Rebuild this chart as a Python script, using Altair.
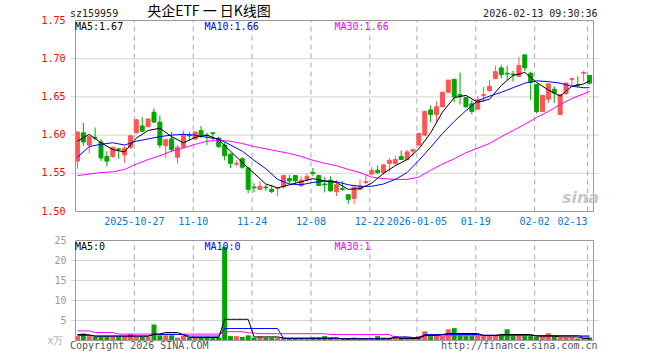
import altair as alt
import numpy as np
import pandas as pd

# ---------------- data ----------------
symbol = "sz159959"
title_text = "央企ETF 一 日K线图"
timestamp = "2026-02-13 09:30:36"
copyright_text = "Copyright 2026 SINA.COM"
site_text = "http://finance.sina.com.cn"
unit_text = "x万"

date_tick_index = [10, 20, 30, 40, 50, 58, 68, 78, 87]
date_tick_label = ["2025-10-27", "11-10", "11-24", "12-08", "12-22",
                   "2026-01-05", "01-19", "02-02", "02-13"]
price_ticks = [1.50, 1.55, 1.60, 1.65, 1.70, 1.75]
volume_ticks = [5, 10, 15, 20, 25]

opens = [1.566, 1.603, 1.587, 1.597, 1.591, 1.572, 1.572, 1.582, 1.574, 1.584,
         1.603, 1.612, 1.611, 1.630, 1.617, 1.586, 1.595, 1.571, 1.584, 1.600,
         1.595, 1.606, 1.600, 1.603, 1.596, 1.587, 1.575, 1.562, 1.569, 1.557,
         1.532, 1.529, 1.532, 1.529, 1.530, 1.532, 1.543, 1.547, 1.534, 1.542,
         1.551, 1.547, 1.536, 1.541, 1.526, 1.530, 1.522, 1.517, 1.529, 1.538,
         1.549, 1.554, 1.551, 1.563, 1.563, 1.572, 1.568, 1.579, 1.587, 1.600,
         1.633, 1.627, 1.637, 1.656, 1.673, 1.653, 1.649, 1.641, 1.634, 1.652,
         1.658, 1.674, 1.688, 1.681, 1.680, 1.677, 1.705, 1.681, 1.666, 1.631,
         1.647, 1.660, 1.627, 1.654, 1.673, 1.666, 1.681, 1.678]
highs = [1.605, 1.616, 1.599, 1.610, 1.595, 1.579, 1.585, 1.583, 1.585, 1.600,
         1.621, 1.624, 1.622, 1.635, 1.626, 1.595, 1.604, 1.587, 1.606, 1.604,
         1.605, 1.612, 1.603, 1.603, 1.598, 1.590, 1.577, 1.567, 1.571, 1.557,
         1.537, 1.540, 1.535, 1.535, 1.531, 1.548, 1.548, 1.547, 1.546, 1.550,
         1.557, 1.548, 1.545, 1.546, 1.541, 1.540, 1.522, 1.533, 1.542, 1.548,
         1.558, 1.560, 1.561, 1.570, 1.573, 1.580, 1.581, 1.581, 1.603, 1.632,
         1.639, 1.644, 1.657, 1.672, 1.673, 1.682, 1.650, 1.646, 1.651, 1.663,
         1.672, 1.691, 1.692, 1.691, 1.684, 1.702, 1.705, 1.683, 1.666, 1.652,
         1.668, 1.664, 1.653, 1.669, 1.674, 1.677, 1.684, 1.679]
lows = [1.556, 1.586, 1.576, 1.594, 1.566, 1.559, 1.570, 1.569, 1.564, 1.582,
        1.602, 1.604, 1.610, 1.616, 1.583, 1.570, 1.578, 1.563, 1.583, 1.592,
        1.593, 1.596, 1.587, 1.592, 1.583, 1.567, 1.557, 1.559, 1.556, 1.524,
        1.525, 1.528, 1.527, 1.524, 1.520, 1.530, 1.537, 1.536, 1.532, 1.539,
        1.546, 1.534, 1.525, 1.526, 1.520, 1.527, 1.510, 1.510, 1.528, 1.536,
        1.548, 1.549, 1.548, 1.552, 1.561, 1.568, 1.567, 1.572, 1.586, 1.599,
        1.617, 1.616, 1.637, 1.655, 1.643, 1.640, 1.636, 1.627, 1.633, 1.643,
        1.657, 1.674, 1.674, 1.672, 1.670, 1.676, 1.684, 1.646, 1.628, 1.630,
        1.642, 1.642, 1.626, 1.653, 1.664, 1.663, 1.670, 1.666]
closes = [1.604, 1.591, 1.598, 1.596, 1.570, 1.566, 1.584, 1.581, 1.583, 1.599,
          1.620, 1.605, 1.621, 1.617, 1.587, 1.594, 1.581, 1.584, 1.601, 1.599,
          1.604, 1.600, 1.599, 1.602, 1.585, 1.573, 1.563, 1.563, 1.558, 1.529,
          1.531, 1.533, 1.531, 1.526, 1.531, 1.547, 1.540, 1.540, 1.541, 1.546,
          1.550, 1.534, 1.535, 1.527, 1.535, 1.529, 1.516, 1.532, 1.533, 1.539,
          1.554, 1.551, 1.561, 1.567, 1.568, 1.568, 1.578, 1.581, 1.602, 1.631,
          1.627, 1.637, 1.656, 1.672, 1.650, 1.651, 1.637, 1.631, 1.646, 1.653,
          1.664, 1.683, 1.679, 1.680, 1.679, 1.691, 1.688, 1.669, 1.631, 1.652,
          1.667, 1.655, 1.653, 1.668, 1.674, 1.665, 1.682, 1.668]
volumes = [1.1, 1.75, 1.1, 0.9, 0.9, 0.9, 0.9, 0.9, 1.1, 1.6,
           0.9, 0.9, 0.9, 4.0, 1.3, 1.3, 1.3, 0.7, 1.25, 0.7,
           0.9, 0.75, 0.9, 0.75, 0.75, 23.4, 1.1, 1.1, 0.9, 1.3,
           0.7, 0.9, 0.75, 0.75, 0.75, 0.75, 0.5, 0.5, 0.5, 0.5,
           0.75, 0.75, 1.1, 0.75, 0.5, 0.5, 0.5, 0.75, 0.5, 0.5,
           0.5, 1.1, 0.75, 0.75, 1.1, 0.7, 0.7, 0.7, 1.1, 2.3,
           1.1, 1.1, 1.1, 2.8, 3.1, 1.3, 1.1, 1.1, 1.1, 1.1,
           1.1, 1.1, 1.3, 2.8, 1.1, 1.1, 1.1, 1.1, 0.9, 1.1,
           1.8, 1.1, 0.75, 0.75, 0.75, 0.5, 0.75, 0.75]

# price moving averages, read every second session
ma_index = [0, 2, 4, 6, 8, 10, 12, 14, 16, 18, 20, 22, 24, 26, 28, 30, 32, 34,
            36, 38, 40, 42, 44, 46, 48, 50, 52, 54, 56, 58, 60, 62, 64, 66, 68,
            70, 72, 74, 76, 78, 80, 82, 84, 86, 87]
ma5 = [1.592, 1.601, 1.590, 1.581, 1.578, 1.596, 1.606, 1.609, 1.598, 1.590,
       1.597, 1.600, 1.594, 1.579, 1.564, 1.550, 1.536, 1.531, 1.535, 1.539,
       1.543, 1.540, 1.538, 1.529, 1.530, 1.537, 1.550, 1.560, 1.568, 1.582,
       1.603, 1.630, 1.649, 1.652, 1.643, 1.647, 1.665, 1.678, 1.682, 1.669,
       1.659, 1.651, 1.664, 1.667, 1.671]
ma10 = [1.571, 1.585, 1.588, 1.590, 1.587, 1.592, 1.595, 1.598, 1.600, 1.601,
        1.600, 1.597, 1.595, 1.587, 1.579, 1.567, 1.556, 1.542, 1.536, 1.535,
        1.538, 1.540, 1.539, 1.535, 1.533, 1.533, 1.536, 1.542, 1.551, 1.567,
        1.584, 1.602, 1.618, 1.632, 1.645, 1.651, 1.656, 1.662, 1.668, 1.671,
        1.670, 1.668, 1.664, 1.662, 1.662]
ma30 = [1.547, 1.549, 1.551, 1.552, 1.555, 1.562, 1.568, 1.573, 1.579, 1.583,
        1.588, 1.592, 1.593, 1.592, 1.589, 1.585, 1.582, 1.579, 1.576, 1.572,
        1.567, 1.563, 1.560, 1.555, 1.551, 1.545, 1.543, 1.542, 1.542, 1.545,
        1.554, 1.562, 1.569, 1.577, 1.583, 1.589, 1.598, 1.606, 1.614, 1.623,
        1.631, 1.640, 1.648, 1.654, 1.657]

# volume moving averages, one value per session
vol_ma5 = [1.5, 1.5, 1.4, 1.1, 1.1, 1.1, 1.1, 1.1, 1.1, 1.1,
           1.1, 1.1, 1.1, 1.6, 1.6, 2.0, 2.0, 2.0, 1.4, 0.75,
           0.75, 0.75, 0.75, 0.75, 0.75, 5.3, 5.3, 5.3, 5.3, 5.3,
           0.9, 0.9, 0.9, 0.9, 0.9, 0.6, 0.6, 0.6, 0.6, 0.6,
           0.6, 0.6, 0.6, 0.6, 0.7, 0.4, 0.4, 0.4, 0.4, 0.4,
           0.4, 0.4, 0.4, 0.4, 0.75, 0.5, 0.5, 0.5, 0.5, 1.25,
           1.25, 1.25, 1.5, 1.75, 1.75, 1.75, 1.75, 1.75, 1.75, 1.25,
           1.25, 1.25, 1.5, 1.5, 1.5, 1.5, 1.5, 1.5, 1.1, 1.1,
           1.1, 1.1, 0.9, 0.9, 0.9, 0.9, 0.5, 0.5]
vol_ma10 = [1.3, 1.3, 1.3, 1.1, 1.1, 1.1, 1.1, 1.1, 1.1, 1.1,
            1.1, 1.1, 1.1, 1.5, 1.5, 1.5, 1.5, 1.5, 1.5, 1.1,
            1.1, 1.1, 1.1, 1.1, 1.1, 3.0, 3.0, 3.0, 3.0, 3.0,
            3.0, 3.0, 3.0, 3.0, 3.0, 0.5, 0.5, 0.5, 0.5, 0.5,
            0.5, 0.5, 0.5, 0.5, 0.5, 0.5, 0.5, 0.5, 0.5, 0.5,
            0.5, 0.5, 0.5, 0.5, 0.9, 0.9, 0.9, 0.75, 0.75, 1.5,
            1.5, 1.5, 1.5, 1.5, 1.5, 1.5, 1.5, 1.5, 1.5, 1.33,
            1.33, 1.33, 1.33, 1.33, 1.33, 1.33, 1.33, 1.33, 1.2, 1.2,
            1.2, 1.2, 1.2, 1.2, 1.2, 1.2, 0.9, 0.9]
vol_ma30 = [2.4, 2.4, 2.4, 2.0, 2.0, 2.0, 2.0, 1.6, 1.6, 1.6,
            1.6, 1.6, 1.6, 1.6, 1.6, 1.6, 1.6, 1.6, 1.6, 1.6,
            1.6, 1.6, 1.6, 1.6, 1.6, 2.2, 2.2, 2.2, 2.2, 1.9,
            1.9, 1.7, 1.7, 1.7, 1.7, 1.7, 1.7, 1.7, 1.7, 1.7,
            1.7, 1.7, 1.7, 1.5, 1.5, 1.5, 1.5, 1.5, 1.5, 1.5,
            1.5, 1.5, 1.5, 1.5, 0.75, 0.75, 0.75, 0.75, 0.75, 1.2,
            1.2, 1.2, 1.2, 1.2, 1.2, 1.2, 1.2, 1.2, 1.2, 1.2,
            1.2, 1.2, 1.2, 1.2, 1.2, 1.2, 1.2, 1.2, 1.2, 1.2,
            1.2, 1.2, 1.2, 1.2, 1.2, 1.2, 1.2, 1.2]

# ---------------- layout / style ----------------
N = len(closes)
STEP = 6
W = STEP * N
PRICE_H = 191
GAP = 29
VOL_H = 100
TOTAL_H = PRICE_H + GAP + VOL_H
CENTER = 1 / 3          # candle centre inside its slot
RED = "#ff5555"
GREEN = "#00a600"
MONO = "DejaVu Sans Mono"
CJK = "Noto Sans CJK SC"
GRID = "#a8a8a8"
BORDER = "#999999"

p_lo, p_hi = price_ticks[0], price_ticks[-1]
v_hi = volume_ticks[-1]
XS = alt.Scale(domain=[0, N], nice=False, zero=False)
PS = alt.Scale(domain=[p_hi - (p_hi - p_lo) * TOTAL_H / PRICE_H, p_hi], nice=False, zero=False)
VS = alt.Scale(domain=[0, v_hi * TOTAL_H / VOL_H], nice=False, zero=False)

df = pd.DataFrame({"i": np.arange(N), "open": opens, "high": highs, "low": lows,
                   "close": closes, "vol": volumes,
                   "vma5": vol_ma5, "vma10": vol_ma10, "vma30": vol_ma30})
df["xc"] = df["i"] + CENTER
df["dir"] = np.where(df["close"] >= df["open"], "up", "down")

ma_df = pd.DataFrame({"i": ma_index, "ma5": ma5, "ma10": ma10, "ma30": ma30})
ma_df["xc"] = ma_df["i"] + CENTER

dates_df = pd.DataFrame({"g": date_tick_index, "lbl": date_tick_label,
                         "plo": p_lo, "phi": p_hi, "vlo": 0, "vhi": v_hi})
frame_df = pd.DataFrame({"x0": [0], "x1": [N], "plo": [p_lo], "phi": [p_hi], "vlo": [0], "vhi": [v_hi]})
pgrid_df = pd.DataFrame({"v": price_ticks[1:-1]})
vgrid_df = pd.DataFrame({"v": volume_ticks[:-1]})
plab_df = pd.DataFrame({"v": price_ticks})
vlab_df = pd.DataFrame({"v": volume_ticks})

col = alt.Color("dir:N", scale=alt.Scale(domain=["up", "down"], range=[RED, GREEN]), legend=None)
stk = alt.Stroke("dir:N", scale=alt.Scale(domain=["up", "down"], range=[RED, GREEN]), legend=None)


def xq(f):
    return alt.X(f, type="quantitative", scale=XS, axis=None)


def py(f):
    return alt.Y(f, type="quantitative", scale=PS, axis=None)


def vy(f):
    return alt.Y(f, type="quantitative", scale=VS, axis=None)


# ---------------- price panel ----------------
p_vgrid = alt.Chart(dates_df).mark_rule(color=GRID, strokeDash=[5, 4], strokeWidth=1).encode(
    x=xq("g"), y=py("plo"), y2="phi")
p_hgrid = alt.Chart(pgrid_df).mark_rule(color=GRID, strokeDash=[1, 1], strokeWidth=1).encode(y=py("v"))
p_frame = alt.Chart(frame_df).mark_rect(fillOpacity=0, stroke=BORDER, strokeWidth=1).encode(
    x=xq("x0"), x2="x1", y=py("plo"), y2="phi")
wick = alt.Chart(df).mark_rule(strokeWidth=1).encode(x=xq("xc"), y=py("low"), y2="high", color=col)
body = alt.Chart(df).mark_bar(size=4, strokeWidth=1).encode(
    x=xq("xc"), y=py("open"), y2="close", color=col, stroke=stk)
l5 = alt.Chart(ma_df).mark_line(color="#000000", strokeWidth=1).encode(x=xq("xc"), y=py("ma5"))
l10 = alt.Chart(ma_df).mark_line(color="#0000ff", strokeWidth=1).encode(x=xq("xc"), y=py("ma10"))
l30 = alt.Chart(ma_df).mark_line(color="#ff00ff", strokeWidth=1).encode(x=xq("xc"), y=py("ma30"))
p_labels = alt.Chart(plab_df).mark_text(align="right", baseline="middle", font=MONO, fontSize=10,
                                        color="#ff0000", dx=-5).encode(
    x=alt.value(0), y=py("v"), text=alt.Text("v:Q", format=".2f"))
date_mid = alt.Chart(dates_df.iloc[:-1]).mark_text(baseline="middle", font=MONO, fontSize=10,
                                                   color="#0a78d2").encode(
    x=xq("g"), y=alt.value(PRICE_H + 10), text="lbl:N")
date_last = alt.Chart(dates_df.iloc[-1:]).mark_text(align="right", baseline="middle", font=MONO,
                                                    fontSize=10, color="#0a78d2").encode(
    x=xq("g"), y=alt.value(PRICE_H + 10), text="lbl:N")

price_panel = alt.layer(p_vgrid, p_hgrid, wick, body, l30, l10, l5, p_frame, p_labels, date_mid, date_last)

# ---------------- volume panel ----------------
v_vgrid = alt.Chart(dates_df).mark_rule(color=GRID, strokeDash=[5, 4], strokeWidth=1).encode(
    x=xq("g"), y=vy("vlo"), y2="vhi")
v_hgrid = alt.Chart(vgrid_df).mark_rule(color=GRID, strokeDash=[1, 1], strokeWidth=1).encode(y=vy("v"))
v_frame = alt.Chart(frame_df).mark_rect(fillOpacity=0, stroke=BORDER, strokeWidth=1).encode(
    x=xq("x0"), x2="x1", y=vy("vlo"), y2="vhi")
vbars = alt.Chart(df).mark_bar(size=5).encode(x=xq("xc"), y=vy("vol"), y2=alt.datum(0), color=col)
vl5 = alt.Chart(df).mark_line(color="#000000", strokeWidth=1).encode(x=xq("xc"), y=vy("vma5"))
vl10 = alt.Chart(df).mark_line(color="#0000ff", strokeWidth=1).encode(x=xq("xc"), y=vy("vma10"))
vl30 = alt.Chart(df).mark_line(color="#ff00ff", strokeWidth=1).encode(x=xq("xc"), y=vy("vma30"))
v_labels = alt.Chart(vlab_df).mark_text(align="right", baseline="middle", font=MONO, fontSize=10,
                                        color="#9a9a9a", dx=-4).encode(
    x=alt.value(0), y=vy("v"), text="v:Q")

vol_panel = alt.layer(v_vgrid, v_hgrid, vbars, vl30, vl10, vl5, v_frame, v_labels)


# ---------------- free texts ----------------
def txt(s, x, y, color="#000000", align="left", size=10, font=MONO, baseline="alphabetic", **kw):
    return alt.Chart(pd.DataFrame({"t": [s]})).mark_text(
        align=align, baseline=baseline, font=font, fontSize=size, color=color, **kw).encode(
        text="t:N", x=alt.value(x), y=alt.value(y))


VY0 = PRICE_H + GAP
texts = [
    txt(symbol, -0.5, -4, color="#222222"),
    txt(title_text, 138.5, -5, align="center", size=14, font=CJK),
    txt(timestamp, W - 1, -4, align="right", color="#222222"),
    txt(f"MA5:{ma5[-1]:.2f}", 4.5, 9.5, color="#000000"),
    txt(f"MA10:{ma10[-1]:.2f}", 134, 9.5, color="#0000ff"),
    txt(f"MA30:{ma30[-1]:.2f}", 264, 9.5, color="#ff00ff"),
    txt(f"MA5:{int(vol_ma5[-1])}", 4.5, VY0 + 9, color="#000000"),
    txt(f"MA10:{int(vol_ma10[-1])}", 134, VY0 + 9, color="#0000ff"),
    txt(f"MA30:{int(vol_ma30[-1])}", 264, VY0 + 9, color="#ff00ff"),
    txt(unit_text, -7, VY0 + VOL_H, color="#aaaaaa", align="right", baseline="middle"),
    txt(copyright_text, -0.5, VY0 + VOL_H + 8.5, color="#555555"),
    txt(site_text, W - 1, VY0 + VOL_H + 8.5, color="#555555", align="right"),
    txt("sina", 510, PRICE_H - 9, color="#c8c8c8", align="center", size=16,
        font="DejaVu Sans", fontWeight="bold", fontStyle="italic"),
]

chart = alt.layer(price_panel, vol_panel, *texts).resolve_scale(y="independent").properties(
    width=W, height=TOTAL_H,
    padding={"left": 70.5, "top": 20.5, "right": 61.5, "bottom": 19.5},
    autosize=alt.AutoSizeParams(type="none"),
    background="white",
).configure_view(strokeWidth=0)

chart.save("out.html", embed_options={"renderer": "svg", "actions": False})
